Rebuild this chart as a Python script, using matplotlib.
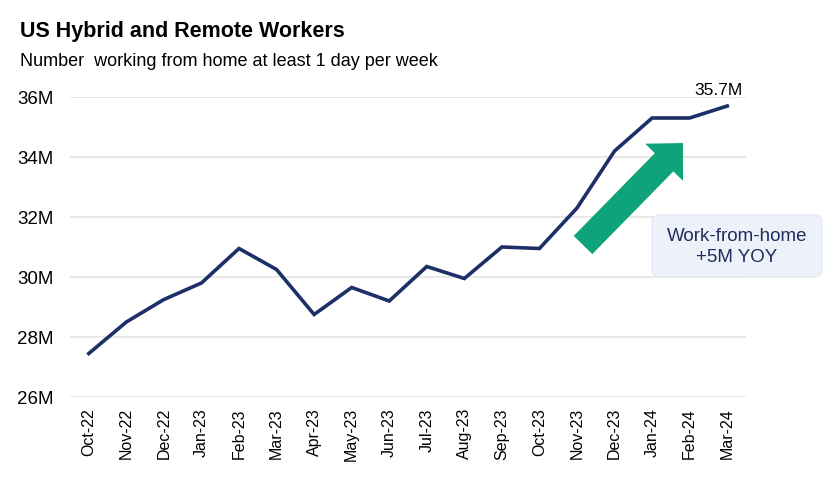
import matplotlib.pyplot as plt
from matplotlib.patches import FancyArrow, FancyBboxPatch
from matplotlib.transforms import IdentityTransform

plt.rcParams['font.family'] = ['Liberation Sans', 'DejaVu Sans']

months = ["Oct-22", "Nov-22", "Dec-22", "Jan-23", "Feb-23", "Mar-23", "Apr-23", "May-23", "Jun-23",
          "Jul-23", "Aug-23", "Sep-23", "Oct-23", "Nov-23", "Dec-23", "Jan-24", "Feb-24", "Mar-24"]
workers_m = [27.45, 28.5, 29.25, 29.8, 30.95, 30.25, 28.75, 29.65, 29.2,
             30.35, 29.95, 31.0, 30.95, 32.3, 34.2, 35.3, 35.3, 35.7]
yticks = [26, 28, 30, 32, 34, 36]

navy = "#1c2f66"
green = "#0fa37b"

fig = plt.figure(figsize=(8.32, 4.94), dpi=100)
ax = fig.add_axes([70 / 832, 1 - 397 / 494, 676 / 832, 300 / 494])

x = list(range(len(months)))
ax.plot(x, workers_m, color=navy, lw=2.6, solid_joinstyle="miter", zorder=3)

ax.set_ylim(26, 36)
ax.set_xlim(-0.5, len(months) - 0.5)
ax.set_yticks(yticks)
ax.set_yticklabels([f"{v}M" for v in yticks], fontsize=13.5)
ax.set_xticks(x)
ax.set_xticklabels(months, rotation=90, fontsize=11.5)
ax.grid(axis="y", color="#e3e3e3", lw=1.2)
ax.set_axisbelow(True)
for s in ax.spines.values():
    s.set_visible(False)
ax.tick_params(length=0, pad=8)
ax.tick_params(axis="y", pad=12)

ax.annotate("35.7M", (x[-1], workers_m[-1]), xytext=(-6, 6), textcoords="offset points",
            ha="center", va="bottom", fontsize=12.5)

# green arrow (pixel coords)
ax.add_patch(FancyArrow(583, 249, 100, 102, width=26, head_width=53, head_length=27,
                        length_includes_head=True, color=green, lw=0, zorder=2,
                        transform=IdentityTransform()))

# callout box
box = FancyBboxPatch((652 / 832, 1 - 277 / 494), 170 / 832, 62 / 494,
                     boxstyle="round,pad=0,rounding_size=0.012",
                     transform=fig.transFigure, facecolor="#edf1fa", edgecolor="#e4e9f4",
                     lw=1, zorder=4)
fig.patches.append(box)
fig.text(737 / 832, 1 - 247 / 494, "Work-from-home\n+5M YOY", ha="center", va="center",
         fontsize=13.5, color="#1f2d5a", linespacing=1.25, zorder=5)

fig.text(20 / 832, 1 - 32 / 494, "US Hybrid and Remote Workers", fontsize=15.5,
         fontweight="bold", va="center", ha="left")
fig.text(20 / 832, 1 - 61 / 494, "Number  working from home at least 1 day per week",
         fontsize=13, va="center", ha="left")

fig.savefig("out.png", dpi=100)
